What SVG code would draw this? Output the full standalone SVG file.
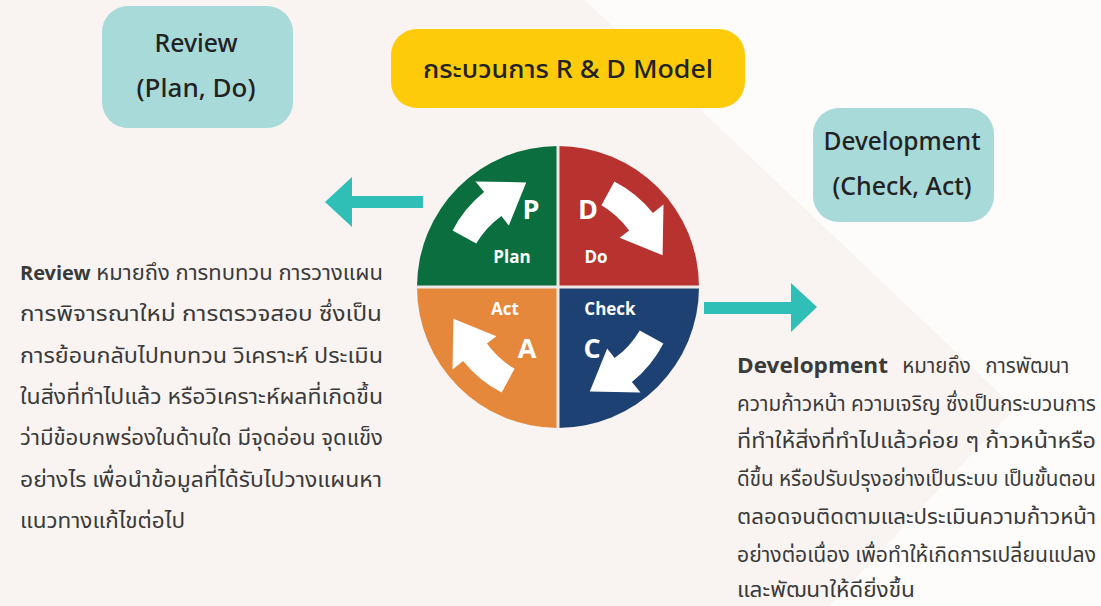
<svg xmlns="http://www.w3.org/2000/svg" width="1101" height="606" viewBox="0 0 1101 606">
<style>
.t{font-family:"Noto Sans Thai","Noto Sans","DejaVu Sans",sans-serif;}
.box{fill:#a7dad8;}
.bt{font-size:25px;fill:#222;text-anchor:middle;font-weight:500;}
.body{font-size:22px;fill:#3a3a3a;}
.rb{font-size:20.5px;}
.q{fill:#fff;font-weight:bold;text-anchor:middle;}
.big{font-size:27px;}
.sm{font-size:17px;}
.arr{fill:#2fbfb7;}
.wa{fill:#fff;}
</style>
<defs>
<path id="curv" d="M452.6,230.6 A120,120 0 0 1 484.1,192.1 L475.5,181.5 L526.2,182.4 L508.8,225.4 L501.4,215.9 A92,92 0 0 0 476.2,243.6 Z"/>
</defs>
<rect width="1101" height="606" fill="#fdfcfa"/>
<polygon points="0,0 585,0 1015,408 830,606 0,606" fill="#f9f4f2"/>

<g id="title">
<rect x="391" y="29" width="354" height="79" rx="26" fill="#fecb0a"/>
<text class="t bt" x="568" y="78" font-size="26" textLength="290" lengthAdjust="spacingAndGlyphs">กระบวนการ R &amp; D Model</text>
</g>

<g id="review-box">
<rect class="box" x="102" y="6" width="191" height="122" rx="26"/>
<text class="t bt" x="196" y="52" textLength="83" lengthAdjust="spacingAndGlyphs">Review</text>
<text class="t bt" x="196" y="97" textLength="119" lengthAdjust="spacingAndGlyphs">(Plan, Do)</text>
</g>

<g id="development-box">
<rect class="box" x="813" y="108" width="181" height="114" rx="26"/>
<text class="t bt" x="902" y="150" textLength="157" lengthAdjust="spacingAndGlyphs">Development</text>
<text class="t bt" x="902" y="195" textLength="139" lengthAdjust="spacingAndGlyphs">(Check, Act)</text>
</g>

<g id="pdca">
<path d="M558,287 L558,146 A141,141 0 0 0 417,287 Z" fill="#0b6e3e"/>
<path d="M558,287 L699,287 A141,141 0 0 0 558,146 Z" fill="#b83330"/>
<path d="M558,287 L558,428 A141,141 0 0 0 699,287 Z" fill="#1e4173"/>
<path d="M558,287 L417,287 A141,141 0 0 0 558,428 Z" fill="#e5883b"/>
<line x1="558" y1="146" x2="558" y2="428" stroke="#ece8e6" stroke-width="3"/>
<line x1="417" y1="287" x2="699" y2="287" stroke="#ece8e6" stroke-width="3"/>
<use href="#curv" class="wa"/>
<use href="#curv" class="wa" transform="rotate(90 558 287)"/>
<use href="#curv" class="wa" transform="rotate(180 558 287)"/>
<use href="#curv" class="wa" transform="rotate(270 558 287)"/>
<text class="t q big" x="531" y="219">P</text>
<text class="t q big" x="588" y="219">D</text>
<text class="t q big" x="527" y="358">A</text>
<text class="t q big" x="592" y="358">C</text>
<text class="t q sm" x="512" y="263">Plan</text>
<text class="t q sm" x="596" y="263">Do</text>
<text class="t q sm" x="505" y="315">Act</text>
<text class="t q sm" x="610" y="315">Check</text>
</g>

<g id="connectors">
<polygon class="arr" points="325,202 352,177 352,196 423,196 423,208 352,208 352,227"/>
<polygon class="arr" points="817,307 791,283 791,302 704,302 704,314 791,314 791,332"/>
</g>

<g id="review-text">
<text class="t body" x="20" y="280" textLength="363" lengthAdjust="spacingAndGlyphs"><tspan font-weight="bold" font-size="20">Review</tspan> หมายถึง การทบทวน การวางแผน</text>
<text class="t body" x="20" y="321" textLength="362" lengthAdjust="spacingAndGlyphs">การพิจารณาใหม่ การตรวจสอบ ซึ่งเป็น</text>
<text class="t body" x="20" y="363" textLength="363" lengthAdjust="spacingAndGlyphs">การย้อนกลับไปทบทวน วิเคราะห์ ประเมิน</text>
<text class="t body" x="20" y="404" textLength="363" lengthAdjust="spacingAndGlyphs">ในสิ่งที่ทำไปแล้ว  หรือวิเคราะห์ผลที่เกิดขึ้น</text>
<text class="t body" x="20" y="445" textLength="363" lengthAdjust="spacingAndGlyphs">ว่ามีข้อบกพร่องในด้านใด มีจุดอ่อน จุดแข็ง</text>
<text class="t body" x="20" y="487" textLength="362" lengthAdjust="spacingAndGlyphs">อย่างไร  เพื่อนำข้อมูลที่ได้รับไปวางแผนหา</text>
<text class="t body" x="20" y="528" textLength="165" lengthAdjust="spacingAndGlyphs">แนวทางแก้ไขต่อไป</text>
</g>

<g id="development-text">
<text class="t body rb" x="737" y="373" word-spacing="9"><tspan font-weight="bold" font-size="22" textLength="151" lengthAdjust="spacingAndGlyphs">Development</tspan> หมายถึง การพัฒนา</text>
<text class="t body rb" x="737" y="411" textLength="359" lengthAdjust="spacingAndGlyphs">ความก้าวหน้า ความเจริญ ซึ่งเป็นกระบวนการ</text>
<text class="t body rb" x="737" y="448" textLength="359" lengthAdjust="spacingAndGlyphs">ที่ทำให้สิ่งที่ทำไปแล้วค่อย ๆ ก้าวหน้าหรือ</text>
<text class="t body rb" x="737" y="486" textLength="359" lengthAdjust="spacingAndGlyphs">ดีขึ้น หรือปรับปรุงอย่างเป็นระบบ เป็นขั้นตอน</text>
<text class="t body rb" x="737" y="524" textLength="359" lengthAdjust="spacingAndGlyphs">ตลอดจนติดตามและประเมินความก้าวหน้า</text>
<text class="t body rb" x="737" y="562" textLength="359" lengthAdjust="spacingAndGlyphs">อย่างต่อเนื่อง เพื่อทำให้เกิดการเปลี่ยนแปลง</text>
<text class="t body rb" x="737" y="597" textLength="178" lengthAdjust="spacingAndGlyphs">และพัฒนาให้ดียิ่งขึ้น</text>
</g>
</svg>
